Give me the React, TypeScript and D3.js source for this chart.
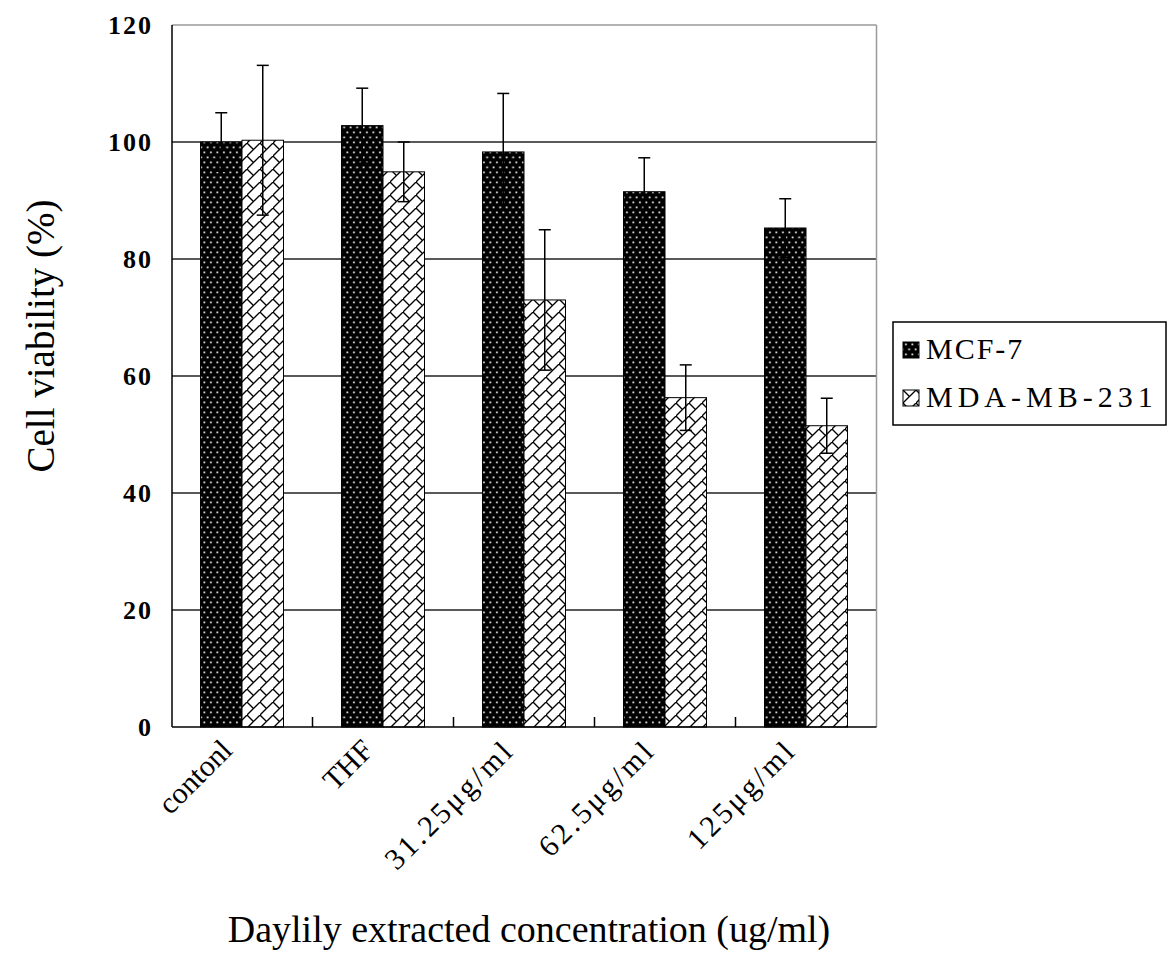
import React from 'react';
import * as d3 from 'd3';

const categories = ['contonl', 'THF', '31.25μg/ml', '62.5μg/ml', '125μg/ml'];
const seriesNames = ['MCF-7', 'MDA-MB-231'];
const mcf7Values = [100, 102.8, 98.3, 91.5, 85.3];
const mcf7Errors = [5, 6.4, 10, 5.8, 5];
const mdaValues = [100.3, 94.9, 73, 56.3, 51.5];
const mdaErrors = [12.8, 5.1, 12, 5.6, 4.7];
const yTicks = [0, 20, 40, 60, 80, 100, 120];

const W = 1168, H = 961;
const L = 172, R = 876.5, T = 25, B = 727;
const FONT = '"Liberation Serif", "Times New Roman", serif';

export default function App() {
  const y = d3.scaleLinear().domain([0, 120]).range([B, T]);
  const x = d3.scaleBand<string>().domain(categories).range([L - 0.5, R]).padding(0);
  const barW = 41.5;
  const inner = d3.scaleBand<string>().domain(seriesNames).range([-barW, barW]).padding(0);
  const series = [
    { name: seriesNames[0], values: mcf7Values, errors: mcf7Errors, fill: 'url(#dots)', ls: 2 },
    { name: seriesNames[1], values: mdaValues, errors: mdaErrors, fill: 'url(#brick)', ls: 5 },
  ];
  const cx = (c: string) => (x(c) as number) + x.bandwidth() / 2;

  return (
    <svg width={W} height={H} style={{ position: 'absolute', left: 0, top: 0, background: '#fff' }} fontFamily={FONT}>
      <defs>
        <pattern id="dots" patternUnits="userSpaceOnUse" width={6.5} height={10}>
          <rect width={6.5} height={10} fill="#000" />
          <rect x={2} y={1.5} width={1.8} height={1.8} fill="#ddd" />
          <rect x={5.25} y={6.5} width={1.8} height={1.8} fill="#ddd" />
          <rect x={-1.25} y={6.5} width={1.8} height={1.8} fill="#ddd" />
        </pattern>
        <pattern id="brick" patternUnits="userSpaceOnUse" width={13} height={13}>
          <rect width={13} height={13} fill="#fff" />
          <line x1={-1} y1={14} x2={14} y2={-1} stroke="#000" strokeWidth={1.3} />
          <line x1={0} y1={0} x2={6.5} y2={6.5} stroke="#000" strokeWidth={1.3} />
        </pattern>
      </defs>

      {/* gridlines */}
      {yTicks.filter(t => t > 0 && t < 120).map(t => (
        <line key={t} x1={L} x2={R} y1={y(t)} y2={y(t)} stroke="#222" strokeWidth={1.5} />
      ))}
      {/* frame top/right */}
      <line x1={L} x2={R} y1={T} y2={T} stroke="#9a9a9a" strokeWidth={1.5} />
      <line x1={R} x2={R} y1={T} y2={B} stroke="#9a9a9a" strokeWidth={1.5} />

      {/* bars */}
      {series.map(s => categories.map((c, i) => {
        const x0 = cx(c) + (inner(s.name) as number);
        return (
          <rect key={s.name + c} x={x0} y={y(s.values[i])} width={inner.bandwidth()} height={B - y(s.values[i])}
            fill={s.fill} stroke="#000" strokeWidth={1} />
        );
      }))}

      {/* error bars */}
      {series.map(s => categories.map((c, i) => {
        const xc = cx(c) + (inner(s.name) as number) + inner.bandwidth() / 2;
        const top = y(s.values[i] + s.errors[i]);
        const bot = y(s.values[i] - s.errors[i]);
        return (
          <g key={'e' + s.name + c} stroke="#000" strokeWidth={1.5}>
            <line x1={xc} x2={xc} y1={top} y2={bot} />
            <line x1={xc - 6} x2={xc + 6} y1={top} y2={top} />
            <line x1={xc - 6} x2={xc + 6} y1={bot} y2={bot} />
          </g>
        );
      }))}

      {/* axes */}
      <line x1={L} x2={L} y1={T} y2={B} stroke="#000" strokeWidth={1.5} />
      <line x1={L} x2={R} y1={B} y2={B} stroke="#000" strokeWidth={1.5} />
      {categories.slice(1).map(c => (
        <line key={'t' + c} x1={x(c) as number} x2={x(c) as number} y1={B} y2={B - 10} stroke="#000" strokeWidth={1.5} />
      ))}

      {/* y tick labels */}
      {yTicks.map(t => (
        <text key={'yl' + t} x={153} y={y(t)} dy="0.35em" textAnchor="end" fontSize={26} fontWeight="bold" letterSpacing={2}>{t}</text>
      ))}

      {/* x category labels */}
      {categories.map(c => (
        <text key={'xl' + c} transform={`translate(${cx(c) - 8},${B + 25}) rotate(-45)`} textAnchor="end"
          fontSize={30} letterSpacing={c.includes('μ') ? 3 : 0}>{c}</text>
      ))}

      {/* axis titles */}
      <text transform={`translate(54,336) rotate(-90)`} textAnchor="middle" fontSize={39}>Cell viability (%)</text>
      <text x={529} y={942} textAnchor="middle" fontSize={38}>Daylily extracted concentration (ug/ml)</text>

      {/* legend */}
      <rect x={893} y={322} width={273} height={103} fill="#fff" stroke="#000" strokeWidth={1.5} />
      {series.map((s, i) => (
        <g key={'lg' + s.name} transform={`translate(903,${342 + i * 48})`}>
          <rect x={0} y={0} width={16} height={16} fill={s.fill} stroke="#000" strokeWidth={1} />
          <text x={23} y={17} fontSize={30} letterSpacing={s.ls}>{s.name}</text>
        </g>
      ))}
    </svg>
  );
}
